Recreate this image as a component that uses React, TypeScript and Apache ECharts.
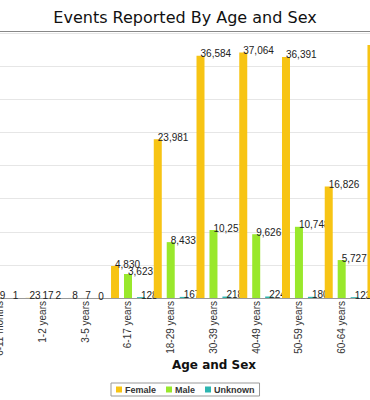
import React, { useEffect, useRef } from "react";
import * as echarts from "echarts";

const categories = [
  "6-11 months",
  "1-2 years",
  "3-5 years",
  "6-17 years",
  "18-29 years",
  "30-39 years",
  "40-49 years",
  "50-59 years",
  "60-64 years",
  "65-74 years",
];
const femaleValues = [12, 23, 8, 4830, 23981, 36584, 37064, 36391, 16826, 38200];
const maleValues = [9, 17, 7, 3623, 8433, 10257, 9626, 10748, 5727, 11000];
const unknownValues = [1, 2, 0, 128, 167, 218, 224, 180, 123, 150];
const seriesNames = ["Female", "Male", "Unknown"];
const yTicks = { min: 0, max: 40000, interval: 5000 };

const SHIFT = 22; // inner chart starts this many px left of the visible frame
const INNER_W = 428;

export default function App() {
  const ref = useRef<HTMLDivElement>(null);
  useEffect(() => {
    if (!ref.current) return;
    const chart = echarts.init(ref.current, null, { renderer: "svg" });
    const fmt = (p: any) => Number(p.value).toLocaleString("en-US");
    const label = {
      show: true,
      position: "top",
      distance: 0,
      align: "left",
      offset: [0, 3],
      fontSize: 10,
      fontFamily: "Liberation Sans",
      color: "#222",
      formatter: fmt,
    };
    chart.setOption({
      animation: false,
      backgroundColor: "#ffffff",
      legend: {
        data: seriesNames,
        left: 111 + SHIFT,
        top: 383,
        icon: "rect",
        itemWidth: 6,
        itemHeight: 6,
        itemGap: 10,
        padding: [2, 5],
        borderColor: "#999",
        borderWidth: 1,
        textStyle: {
          fontFamily: "Liberation Sans",
          fontSize: 9,
          fontWeight: "bold",
          color: "#333",
          padding: [0, 0, 0, -2],
        },
      },
      graphic: [
        {
          type: "text",
          x: 185 + SHIFT,
          y: 17,
          style: {
            text: "Events Reported By Age and Sex",
            fontFamily: "DejaVu Sans",
            fontSize: 16,
            fontWeight: "normal",
            fill: "#111",
            align: "center",
            verticalAlign: "middle",
          },
        },
        {
          type: "line",
          shape: { x1: 0, y1: 31.5, x2: INNER_W, y2: 31.5 },
          style: { stroke: "#888", lineWidth: 1 },
        },
        {
          type: "text",
          x: 214 + SHIFT,
          y: 365,
          style: {
            text: "Age and Sex",
            fontFamily: "DejaVu Sans",
            fontSize: 12,
            fontWeight: "bold",
            fill: "#111",
            align: "center",
            verticalAlign: "middle",
          },
        },
      ],
      grid: { left: 0.4, right: 0.2, top: 33, bottom: 102 },
      xAxis: {
        type: "category",
        data: categories,
        axisLine: { lineStyle: { color: "#999" } },
        axisTick: { show: false },
        axisLabel: {
          rotate: 90,
          margin: 3,
          fontSize: 10,
          fontFamily: "Liberation Sans",
          color: "#333",
          interval: 0,
        },
      },
      yAxis: {
        type: "value",
        min: yTicks.min,
        max: yTicks.max,
        interval: yTicks.interval,
        axisLabel: { show: false },
        axisLine: { show: false },
        axisTick: { show: false },
        splitLine: { lineStyle: { color: "#e6e6e6" } },
      },
      series: [
        {
          name: seriesNames[0],
          type: "bar",
          data: femaleValues,
          barWidth: 8,
          barGap: "62%",
          z: 4,
          itemStyle: { color: "#F7C414" },
          label,
        },
        {
          name: seriesNames[1],
          type: "bar",
          data: maleValues,
          barWidth: 8,
          barGap: "62%",
          z: 3,
          itemStyle: { color: "#99E82C" },
          label,
        },
        {
          name: seriesNames[2],
          type: "bar",
          data: unknownValues,
          barWidth: 8,
          barGap: "62%",
          z: 2,
          itemStyle: { color: "#2DB5B0" },
          label,
        },
      ],
    });
    return () => chart.dispose();
  }, []);
  return (
    <div
      style={{
        position: "absolute",
        left: 0,
        top: 0,
        width: 370,
        height: 400,
        overflow: "hidden",
        background: "#fff",
      }}
    >
      <div
        ref={ref}
        style={{ position: "absolute", left: -SHIFT, top: 0, width: INNER_W, height: 400 }}
      />
    </div>
  );
}
